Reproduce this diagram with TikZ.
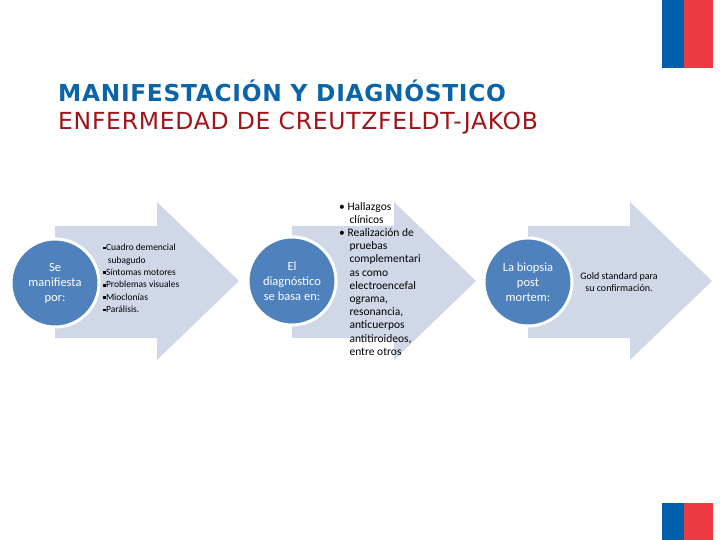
\documentclass[tikz,border=0pt]{standalone}
\usepackage{fontspec}
\setmainfont{Carlito}
\newfontfamily\titlefont[LetterSpace=3]{DejaVu Sans}
\usetikzlibrary{positioning}
\usepackage{xcolor}

\definecolor{circblue}{RGB}{79,129,189}
\definecolor{arrowgrey}{RGB}{208,216,232}
\definecolor{titleblue}{RGB}{10,100,170}
\definecolor{titlered}{RGB}{160,20,25}
\definecolor{flagblue}{RGB}{0,95,170}
\definecolor{flagred}{RGB}{238,58,67}

\newcommand{\sqbullet}{\rule[0.15em]{0.3em}{0.3em}}

\begin{document}
\begin{tikzpicture}[x=1pt, y=-1pt,
  bigarrow/.style={fill=arrowgrey},
  circbox/.style={circle, fill=circblue, draw=white, line width=3pt, minimum size=88pt, inner sep=0pt, align=center, text=white, font=\fontsize{12.5}{15}\selectfont},
  listbox/.style={anchor=north west, align=left, inner sep=0pt}]

\useasboundingbox (0,0) rectangle (720,540);

% Flags
\fill[flagblue] (662,0) rectangle (684,68);
\fill[flagred] (684,0) rectangle (713,68);
\fill[flagblue] (662,503) rectangle (684,540);
\fill[flagred] (684,503) rectangle (713,540);

% Title
\node (title1) [anchor=base west, inner sep=0pt, text=titleblue, font=\titlefont\bfseries\fontsize{23.3}{28}\selectfont] at (58,102) {MANIFESTACIÓN Y DIAGNÓSTICO};
\node (title2) [anchor=base west, inner sep=0pt, text=titlered, font=\titlefont\fontsize{23.5}{28}\selectfont] at (58,130) {ENFERMEDAD DE CREUTZFELDT-JAKOB};

% Arrows
\foreach \cx in {55,292,528}
  \fill[bigarrow] (\cx,226) -- (\cx+102,226) -- (\cx+102,202) -- (\cx+184,281)
    -- (\cx+102,360) -- (\cx+102,338) -- (\cx,338) -- cycle;

% Circles
\node (manif) [circbox] at (55,283) {Se\\manifiesta\\por:};
\node (diag) [circbox] at (292,281) {El\\diagnóstico\\se basa en:};
\node (biop) [circbox] at (528,282) {La biopsia\\post\\mortem:};

% Texts
\node (manifl) [listbox, font=\fontsize{9.5}{12.4}\selectfont] at (103,244)
  {\sqbullet Cuadro demencial\\ \hspace*{0.5em}subagudo\\ \sqbullet Síntomas motores\\ \sqbullet Problemas visuales\\ \sqbullet Mioclonías\\ \sqbullet Parálisis.};
\node (diagl) [listbox, font=\fontsize{11.5}{13.2}\selectfont] at (339,202)
  {\textbullet\ Hallazgos\\ \hspace*{0.9em}clínicos\\ \textbullet\ Realización de\\ \hspace*{0.9em}pruebas\\ \hspace*{0.9em}complementari\\ \hspace*{0.9em}as como\\ \hspace*{0.9em}electroencefal\\ \hspace*{0.9em}ograma,\\ \hspace*{0.9em}resonancia,\\ \hspace*{0.9em}anticuerpos\\ \hspace*{0.9em}antitiroideos,\\ \hspace*{0.9em}entre otros};
\node (biopl) [align=center, inner sep=0pt, font=\fontsize{10}{11.5}\selectfont] at (619,282)
  {Gold standard para\\su confirmación.};

\end{tikzpicture}
\end{document}
